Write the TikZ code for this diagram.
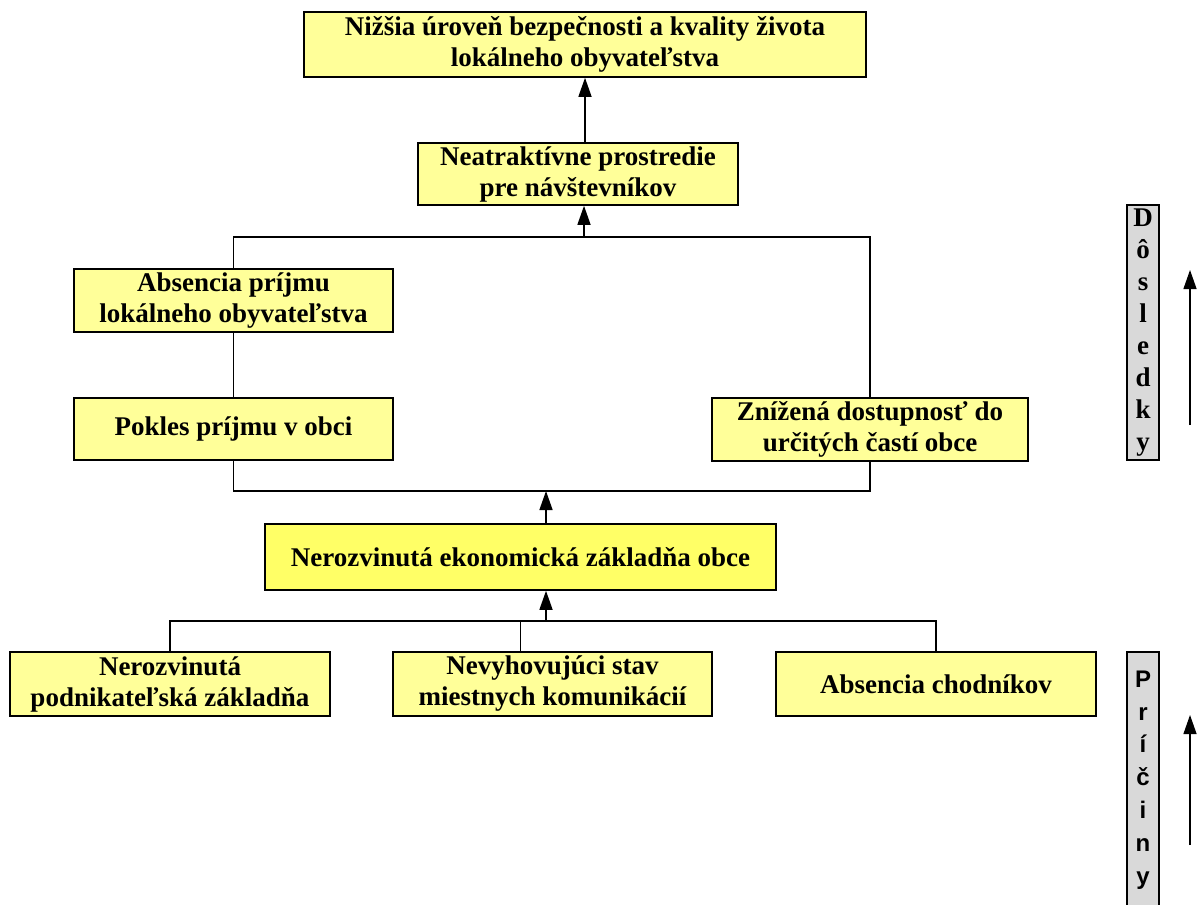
\documentclass[tikz,border=0pt]{standalone}
\usepackage{fontspec}
\setmainfont{Liberation Serif}
\newfontfamily\arialfont{Liberation Sans}
\usetikzlibrary{arrows.meta,shadows}
\definecolor{paleyel}{HTML}{FFFF99}
\definecolor{strongyel}{HTML}{FFFF66}
\definecolor{sidegray}{HTML}{D9D9D9}
\begin{document}
\begin{tikzpicture}[x=1pt,y=-1pt,
  box/.style={draw=black, line width=1.6pt, fill=paleyel, rectangle, inner sep=0pt, align=center,
     drop shadow={shadow xshift=1.3pt, shadow yshift=-1.3pt, fill=black!70, opacity=1},
     font=\fontsize{27}{31}\selectfont\bfseries},
  sidebox/.style={draw=black, line width=1.4pt, fill=sidegray, rectangle, inner sep=0pt, align=center,
     minimum width=32pt},
  conn/.style={draw=black, line width=1.4pt},
  arr/.style={conn, -{Triangle[length=19pt,width=13pt]}},
]
\useasboundingbox (0,0) rectangle (1198,904);
\fill[white] (0,0) rectangle (1198,904);

\node[box, minimum width=562pt, minimum height=65pt] (top) at (585,44.5)
  {Nižšia úroveň bezpečnosti a kvality života\\lokálneho obyvateľstva};
\node[box, minimum width=320pt, minimum height=62pt] (neat) at (578,174)
  {Neatraktívne prostredie\\pre návštevníkov};
\node[box, minimum width=319pt, minimum height=63pt] (abs) at (233.5,300.5)
  {Absencia príjmu\\lokálneho obyvateľstva};
\node[box, minimum width=319pt, minimum height=62pt] (pok) at (233.5,429)
  {Pokles príjmu v obci};
\node[box, minimum width=316pt, minimum height=63pt] (zni) at (870,429.5)
  {Znížená dostupnosť do\\určitých častí obce};
\node[box, fill=strongyel, minimum width=511pt, minimum height=66pt] (nez) at (520.5,557)
  {Nerozvinutá ekonomická základňa obce};
\node[box, minimum width=320pt, minimum height=64pt] (b1) at (170,684)
  {Nerozvinutá\\podnikateľská základňa};
\node[box, minimum width=319pt, minimum height=64pt] (b2) at (552.5,684)
  {Nevyhovujúci stav\\miestnych komunikácií};
\node[box, minimum width=320pt, minimum height=64pt] (b3) at (936,684)
  {Absencia chodníkov};

\node[sidebox, minimum height=255pt, font=\fontsize{27}{32.1}\selectfont\bfseries] (dos) at (1143,332.5)
  {D\\ô\\s\\l\\e\\d\\k\\y};
\node[sidebox, minimum height=256pt, font=\arialfont\fontsize{24}{32.8}\selectfont\bfseries] (pri) at (1143,780)
  {P\\r\\í\\č\\i\\n\\y};

% connectors
\draw[arr] (top.south |- neat.north) -- (top.south);
\coordinate (jt) at (584,237);
\draw[conn] (abs.north) |- (jt) -| (zni.north);
\draw[arr] (jt) -- (jt |- neat.south);
\draw[conn] (abs.south) -- (pok.north);
\coordinate (jb) at (546,491);
\draw[conn] (pok.south) |- (jb) -| (zni.south);
\draw[arr] (jb |- nez.north) -- (jb);
\coordinate (jc) at (546,621);
\draw[conn] (b1.north) |- (jc) -| (b3.north);
\draw[conn] (nez.south |- b2.north) -- (nez.south |- jc);
\draw[arr] (jc) -- (jc |- nez.south);

% side arrows
\coordinate (d1) at (1190,425);
\coordinate (d2) at (1190,270);
\draw[arr, line width=1.2pt] (d1) -- (d2);
\coordinate (p1) at (1190,845);
\coordinate (p2) at (1190,715);
\draw[arr, line width=1.2pt] (p1) -- (p2);
\end{tikzpicture}
\end{document}
